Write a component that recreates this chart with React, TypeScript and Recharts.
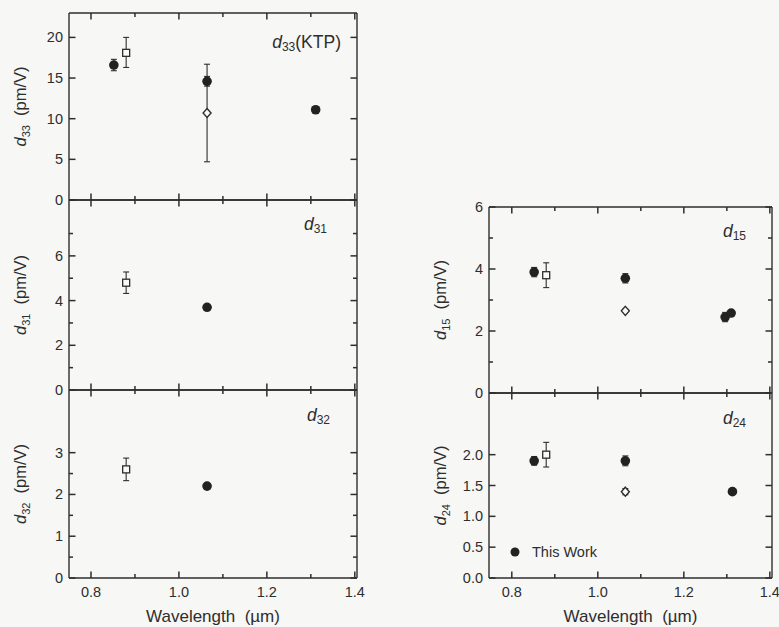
import { ScatterChart, Scatter, XAxis, YAxis, ErrorBar, Legend } from "recharts";

// wavelength axis (um)
const xTicks = [0.8, 0.9, 1.0, 1.1, 1.2, 1.3, 1.4];
const xMajor = [0.8, 1.0, 1.2, 1.4];

// d33 (KTP)
const d33Ticks = [0, 5, 10, 15, 20];
const d33Work = [
  { x: 0.852, y: 16.6, err: 0.7 },
  { x: 1.064, y: 14.6, err: 0.6 },
  { x: 1.311, y: 11.1, err: 0.3 },
];
const d33Square = [{ x: 0.88, y: 18.1, err: [1.8, 1.9] }];
const d33Diamond = [{ x: 1.064, y: 10.7, err: 6 }];

// d31
const d31Ticks = [0, 1, 2, 3, 4, 5, 6, 7];
const d31Major = [0, 2, 4, 6];
const d31Work = [{ x: 1.064, y: 3.7, err: 0.1 }];
const d31Square = [{ x: 0.88, y: 4.8, err: 0.48 }];

// d32
const d32Ticks = [0, 0.5, 1, 1.5, 2, 2.5, 3];
const d32Major = [0, 1, 2, 3];
const d32Work = [{ x: 1.064, y: 2.2, err: 0.05 }];
const d32Square = [{ x: 0.88, y: 2.6, err: 0.27 }];

// d15
const d15Ticks = [0, 1, 2, 3, 4, 5, 6];
const d15Major = [0, 2, 4, 6];
const d15Work = [
  { x: 0.852, y: 3.9, err: 0.15 },
  { x: 1.064, y: 3.7, err: 0.15 },
  { x: 1.296, y: 2.45, err: 0.15 },
  { x: 1.31, y: 2.58, err: 0.08 },
];
const d15Square = [{ x: 0.88, y: 3.8, err: 0.4 }];
const d15Diamond = [{ x: 1.064, y: 2.65, err: 0.05 }];

// d24
const d24Ticks = [0, 0.5, 1, 1.5, 2];
const d24Work = [
  { x: 0.852, y: 1.9, err: 0.07 },
  { x: 1.064, y: 1.9, err: 0.08 },
  { x: 1.313, y: 1.4, err: 0.03 },
];
const d24Square = [{ x: 0.88, y: 2.0, err: 0.2 }];
const d24Diamond = [{ x: 1.064, y: 1.4, err: 0.05 }];

const INK = "#2e2e2e";
const FONT = "'Liberation Sans', Arial, sans-serif";

const near = (list: number[], v: number) => list.some((m) => Math.abs(m - v) < 1e-6);

// ticks point into the plot; labels sit outside
const makeTick =
  (side: "left" | "right" | "top" | "bottom", major: number[], fmt?: (v: number) => string) =>
  (props: any) => {
    const { x, y, payload } = props;
    const v = payload.value;
    const len = near(major, v) ? 6.5 : 4;
    const showLabel = fmt && near(major, v);
    if (side === "left")
      return (
        <g>
          <line x1={x} x2={x + len} y1={y} y2={y} stroke={INK} strokeWidth={1.5} />
          {showLabel && (
            <text x={x - 6} y={y} dy={5} textAnchor="end" fontSize={14.5} fill={INK} fontFamily={FONT}>
              {fmt!(v)}
            </text>
          )}
        </g>
      );
    if (side === "right")
      return <line x1={x} x2={x - len} y1={y} y2={y} stroke={INK} strokeWidth={1.5} />;
    if (side === "top")
      return <line x1={x} x2={x} y1={y} y2={y + len} stroke={INK} strokeWidth={1.5} />;
    return (
      <g>
        <line x1={x} x2={x} y1={y} y2={y - len} stroke={INK} strokeWidth={1.5} />
        {showLabel && (
          <text x={x} y={y} dy={19} textAnchor="middle" fontSize={14.5} fill={INK} fontFamily={FONT}>
            {fmt!(v)}
          </text>
        )}
      </g>
    );
  };

const filled = (p: any) => <circle cx={p.cx} cy={p.cy} r={4.8} fill="#222" />;
const square = (p: any) => (
  <rect x={p.cx - 3.5} y={p.cy - 3.5} width={7} height={7} fill="#fafaf8" stroke={INK} strokeWidth={1.3} />
);
const diamond = (p: any) => (
  <polygon
    points={`${p.cx},${p.cy - 4.5} ${p.cx + 4},${p.cy} ${p.cx},${p.cy + 4.5} ${p.cx - 4},${p.cy}`}
    fill="#fafaf8"
    stroke={INK}
    strokeWidth={1.4}
  />
);
const nothing = () => <g />;

type Series = { data: any[]; shape: (p: any) => any };

type PanelProps = {
  left: number;
  top: number;
  width: number;
  height: number;
  marginTop: number;
  marginRight: number;
  marginBottom: number;
  bottomHeight: number;
  xDomain: [number, number];
  yDomain: [number, number];
  yTicks: number[];
  yMajor: number[];
  yFmt: (v: number) => string;
  showX: boolean;
  sub: string;
  series: Series[];
  legend?: boolean;
};

const YTitle = (sub: string) => (props: any) => {
  const vb = props.viewBox;
  const cx = vb.x + vb.width - 49;
  const cy = vb.y + vb.height / 2;
  return (
    <text
      transform={`translate(${cx},${cy}) rotate(-90)`}
      textAnchor="middle"
      dy={6}
      fontSize={16.5}
      fill={INK}
      fontFamily={FONT}
    >
      <tspan fontStyle="italic">d</tspan>
      <tspan fontSize={11} dy={4}>
        {sub}
      </tspan>
      <tspan dy={-4}>{"\u00a0\u00a0(pm/V)"}</tspan>
    </text>
  );
};

const XTitle = (props: any) => {
  const vb = props.viewBox;
  return (
    <text x={vb.x + vb.width / 2} y={vb.y + 44} textAnchor="middle" fontSize={17} fill={INK} fontFamily={FONT}>
      {"Wavelength\u00a0\u00a0(µm)"}
    </text>
  );
};

const LegendBox = () => (
  <div style={{ display: "flex", alignItems: "center", fontFamily: FONT, fontSize: 14.5, color: INK, lineHeight: "14px" }}>
    <svg width={10} height={10} style={{ marginRight: 12 }}>
      <circle cx={5} cy={5} r={4.5} fill="#222" />
    </svg>
    This Work
  </div>
);

const fmt1 = (v: number) => v.toFixed(1);
const fmt0 = (v: number) => String(v);

function Panel(p: PanelProps) {
  return (
    <div style={{ position: "absolute", left: p.left, top: p.top }}>
      <ScatterChart
        width={p.width}
        height={p.height}
        margin={{ top: p.marginTop, right: p.marginRight, bottom: p.marginBottom, left: 0 }}
      >
        <XAxis
          dataKey="x"
          type="number"
          domain={p.xDomain}
          allowDataOverflow
          ticks={xTicks}
          interval={0}
          height={p.bottomHeight}
          tickSize={0}
          tickMargin={0}
          tickLine={false}
          axisLine={{ stroke: INK, strokeWidth: 1.4 }}
          tick={makeTick("bottom", xMajor, p.showX ? fmt1 : undefined)}
          label={p.showX ? { content: XTitle } : undefined}
        />
        <XAxis
          xAxisId="top"
          dataKey="x"
          orientation="top"
          type="number"
          domain={p.xDomain}
          allowDataOverflow
          ticks={xTicks}
          interval={0}
          height={1}
          tickSize={0}
          tickMargin={0}
          tickLine={false}
          axisLine={{ stroke: INK, strokeWidth: 1.4 }}
          tick={makeTick("top", xMajor)}
        />
        <YAxis
          dataKey="y"
          type="number"
          domain={p.yDomain}
          allowDataOverflow
          ticks={p.yTicks}
          interval={0}
          width={69}
          tickSize={0}
          tickMargin={0}
          tickLine={false}
          axisLine={{ stroke: INK, strokeWidth: 1.4 }}
          tick={makeTick("left", p.yMajor, p.yFmt)}
          label={{ content: YTitle(p.sub) }}
        />
        <YAxis
          yAxisId="right"
          dataKey="y"
          orientation="right"
          type="number"
          domain={p.yDomain}
          allowDataOverflow
          ticks={p.yTicks}
          interval={0}
          width={1}
          tickSize={0}
          tickMargin={0}
          tickLine={false}
          axisLine={{ stroke: INK, strokeWidth: 1.4 }}
          tick={makeTick("right", p.yMajor)}
        />
        {p.series.map((s, i) => (
          <Scatter key={i} data={s.data} dataKey="y" shape={s.shape} isAnimationActive={false}>
            <ErrorBar dataKey="err" direction="y" width={3} stroke={INK} strokeWidth={1.1} />
          </Scatter>
        ))}
        {/* carries the top and right frame axes */}
        <Scatter
          data={p.series[0].data}
          xAxisId="top"
          yAxisId="right"
          dataKey="y"
          shape={nothing}
          legendType="none"
          isAnimationActive={false}
        />
        {p.legend && (
          <Legend
            content={LegendBox}
            layout="vertical"
            align="center"
            verticalAlign="middle"
            wrapperStyle={{ position: "absolute", left: 90, top: 153, width: 140 }}
          />
        )}
      </ScatterChart>
    </div>
  );
}

const note = (right: number, top: number, sub: string, extra = "") => (
  <div
    style={{
      position: "absolute",
      right: 779 - right,
      top,
      fontFamily: FONT,
      fontSize: 17.5,
      color: INK,
      whiteSpace: "nowrap",
      lineHeight: "20px",
    }}
  >
    <i>d</i>
    <sub style={{ fontSize: 12, verticalAlign: "-3px" }}>{sub}</sub>
    {extra}
  </div>
);

export default function App() {
  const L: [number, number] = [0.75, 1.405];
  const R: [number, number] = [0.747, 1.405];
  return (
    <div
      style={{ position: "absolute", left: 0, top: 0, width: 779, height: 627, background: "#f7f7f5", overflow: "hidden" }}
    >
      <Panel
        left={0} top={0} width={370} height={210} marginTop={12} marginRight={12} marginBottom={9} bottomHeight={1}
        xDomain={L} yDomain={[0, 23]} yTicks={d33Ticks} yMajor={d33Ticks} yFmt={fmt0} showX={false} sub="33"
        series={[
          { data: d33Diamond, shape: diamond },
          { data: d33Work, shape: filled },
          { data: d33Square, shape: square },
        ]}
      />
      <Panel
        left={0} top={199} width={370} height={201} marginTop={0} marginRight={12} marginBottom={9} bottomHeight={1}
        xDomain={L} yDomain={[0, 8.5]} yTicks={d31Ticks} yMajor={d31Major} yFmt={fmt0} showX={false} sub="31"
        series={[
          { data: d31Work, shape: filled },
          { data: d31Square, shape: square },
        ]}
      />
      <Panel
        left={0} top={389} width={370} height={238} marginTop={0} marginRight={12} marginBottom={0} bottomHeight={49}
        xDomain={L} yDomain={[0, 4.5]} yTicks={d32Ticks} yMajor={d32Major} yFmt={fmt0} showX sub="32"
        series={[
          { data: d32Work, shape: filled },
          { data: d32Square, shape: square },
        ]}
      />
      <Panel
        left={420} top={190} width={359} height={213} marginTop={16} marginRight={6} marginBottom={9} bottomHeight={1}
        xDomain={R} yDomain={[0, 6]} yTicks={d15Ticks} yMajor={d15Major} yFmt={fmt0} showX={false} sub="15"
        series={[
          { data: d15Diamond, shape: diamond },
          { data: d15Work, shape: filled },
          { data: d15Square, shape: square },
        ]}
      />
      <Panel
        left={420} top={392} width={359} height={235} marginTop={0} marginRight={6} marginBottom={0} bottomHeight={49}
        xDomain={R} yDomain={[0, 3]} yTicks={d24Ticks} yMajor={d24Ticks} yFmt={fmt1} showX sub="24" legend
        series={[
          { data: d24Diamond, shape: diamond },
          { data: d24Work, shape: filled },
          { data: d24Square, shape: square },
        ]}
      />
      {note(341, 32, "33", "(KTP)")}
      {note(327, 214, "31")}
      {note(330, 405, "32")}
      {note(746, 221, "15")}
      {note(746, 408, "24")}
    </div>
  );
}
